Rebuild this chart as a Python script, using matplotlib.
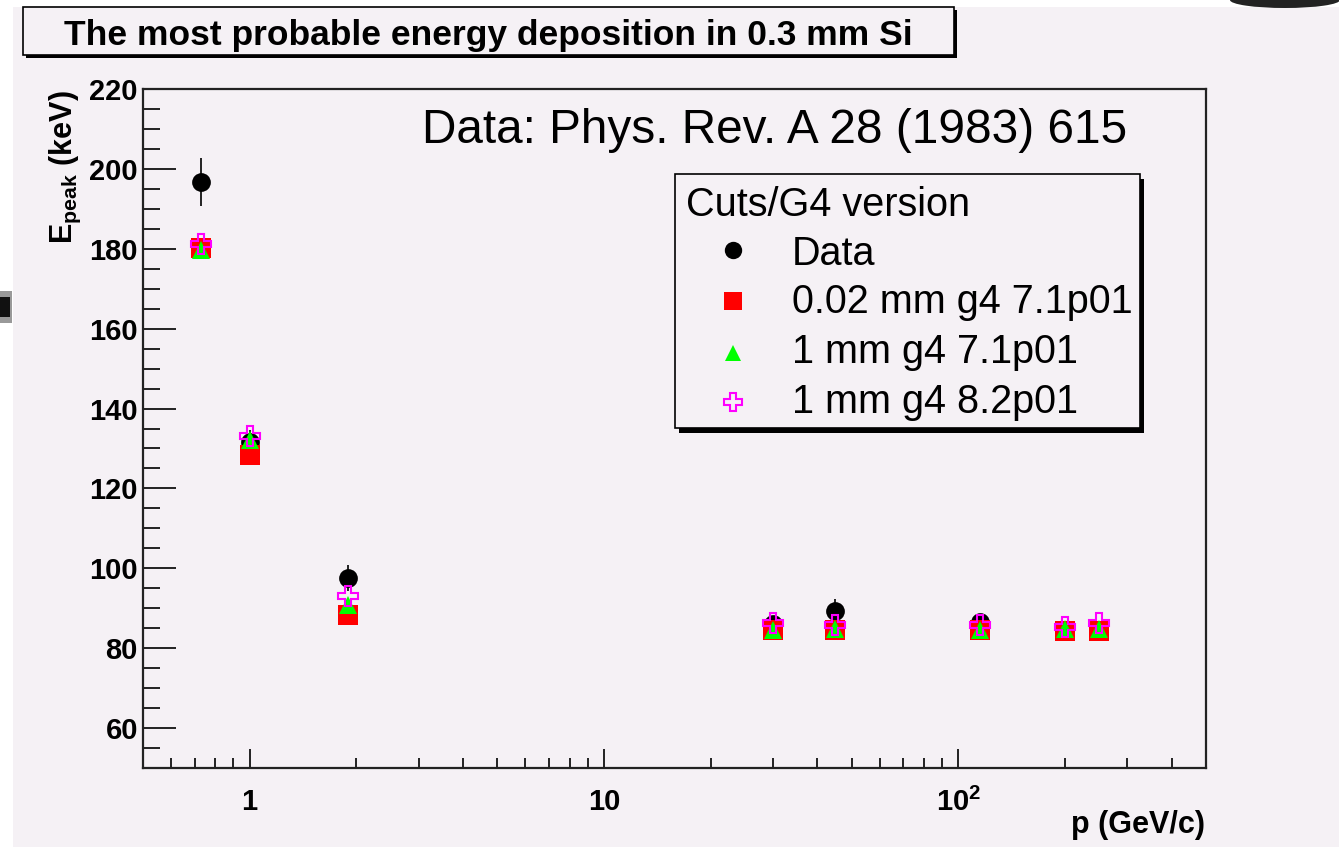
import matplotlib
matplotlib.use('Agg')
import matplotlib.pyplot as plt
from matplotlib.patches import Rectangle, Ellipse
from matplotlib.lines import Line2D
from matplotlib.ticker import FixedLocator, FixedFormatter, MultipleLocator, LogLocator, NullFormatter

# ---------------- data ----------------
data_p = [0.73, 1.0, 1.9, 30, 45, 115]
data_e = [196.7, 131.5, 97.5, 86.0, 89.2, 86.5]
data_err = [6.0, 3.0, 3.2, 1.5, 3.0, 1.5]

sim_p = [0.73, 1.0, 1.9, 30, 45, 115, 200, 250]
e_002_71 = [180.3, 128.3, 88.2, 84.5, 84.5, 84.5, 84.4, 84.4]
e_1_71 = [179.8, 132.0, 90.8, 84.6, 84.7, 84.6, 84.7, 84.8]
e_1_82 = [181.3, 133.0, 93.0, 86.2, 85.7, 85.7, 85.2, 86.2]

legend_labels = ['Data', '0.02 mm g4 7.1p01', '1 mm g4 7.1p01', '1 mm g4 8.2p01']
legend_title = 'Cuts/G4 version'
title = 'The most probable energy deposition in 0.3 mm Si'
note = 'Data: Phys. Rev. A 28 (1983) 615'

xtick_vals = [1, 10, 100]
xtick_labels = ['1', '10', r'$\mathbf{10^{2}}$']
ytick_vals = [60, 80, 100, 120, 140, 160, 180, 200, 220]
ytick_labels = [str(v) for v in ytick_vals]

# ---------------- style ----------------
W, H = 1339, 847
plt.rcParams['font.family'] = ['Liberation Sans', 'DejaVu Sans']
plt.rcParams['mathtext.fontset'] = 'custom'
plt.rcParams['mathtext.rm'] = 'Liberation Sans'
plt.rcParams['mathtext.bf'] = 'Liberation Sans:bold'
plt.rcParams['mathtext.it'] = 'Liberation Sans:italic'

BG = '#f5f1f5'
FRAME = '#222222'

fig = plt.figure(figsize=(W / 100, H / 100), dpi=100, facecolor=BG)


def fx(x):
    return x / W


def fy(y):
    return 1 - y / H


ax = fig.add_axes([fx(143), fy(768), (1206 - 143) / W, (768 - 89) / H])
ax.set_facecolor(BG)
ax.set_xscale('log')
ax.set_xlim(0.5, 500)
ax.set_ylim(50, 220)

ax.errorbar(data_p, data_e, yerr=data_err, fmt='o', color='black', ecolor='#222222',
            ms=13.5, mew=0, elinewidth=1.4, capsize=4, capthick=1.4, zorder=3)
ax.plot(sim_p, e_002_71, 's', color='#ff0000', ms=13.8, mew=0, zorder=4)
ax.plot(sim_p, e_1_71, '^', color='#00ff00', ms=13.3, mew=0, zorder=5)
ax.plot(sim_p, e_1_82, 'P', mfc='none', mec='#ff00ff', ms=13.8, mew=1.5, zorder=6)

for s in ax.spines.values():
    s.set_linewidth(1.6)
    s.set_color(FRAME)

ax.xaxis.set_major_locator(FixedLocator(xtick_vals))
ax.xaxis.set_major_formatter(FixedFormatter(xtick_labels))
ax.xaxis.set_minor_locator(LogLocator(base=10, subs=[2, 3, 4, 5, 6, 7, 8, 9], numticks=20))
ax.xaxis.set_minor_formatter(NullFormatter())
ax.yaxis.set_major_locator(FixedLocator(ytick_vals))
ax.yaxis.set_major_formatter(FixedFormatter(ytick_labels))
ax.yaxis.set_minor_locator(MultipleLocator(5))

ax.tick_params(axis='y', which='major', direction='in', length=23.8, width=1.4,
               pad=3.6, labelsize=21, color=FRAME)
ax.tick_params(axis='y', which='minor', direction='in', length=12.2, width=1.4, color=FRAME)
ax.tick_params(axis='x', which='major', direction='in', length=13.7, width=1.4,
               pad=14.4, labelsize=21, color=FRAME)
ax.tick_params(axis='x', which='minor', direction='in', length=7.2, width=1.4, color=FRAME)
for lab in ax.get_xticklabels() + ax.get_yticklabels():
    lab.set_fontweight('bold')

# axis titles
fig.text(fx(1205), fy(833), 'p (GeV/c)', fontsize=22, fontweight='bold',
         ha='right', va='baseline')
fig.text(fx(72), fy(90), r'$\mathbf{E}_{\mathbf{peak}}$ (keV)', fontsize=22,
         fontweight='bold', rotation=90, rotation_mode='anchor',
         ha='right', va='baseline')

# reference note
fig.text(fx(422), fy(143), note, fontsize=34.4, ha='left', va='baseline')

# title box
fig.patches.append(Rectangle((fx(26), fy(58)), (954 - 23) / W, (55 - 7) / H,
                             transform=fig.transFigure, facecolor='black',
                             edgecolor='none', zorder=1))
fig.patches.append(Rectangle((fx(23), fy(55)), (954 - 23) / W, (55 - 7) / H,
                             transform=fig.transFigure, facecolor=BG,
                             edgecolor='black', lw=1.2, zorder=1.1))
fig.text(fx(64), fy(45), title, fontsize=25.5, fontweight='bold',
         ha='left', va='baseline', zorder=3)

# legend box
fig.patches.append(Rectangle((fx(679), fy(433)), (1140 - 675) / W, (428 - 174) / H,
                             transform=fig.transFigure, facecolor='black',
                             edgecolor='none', zorder=1))
fig.patches.append(Rectangle((fx(675), fy(428)), (1140 - 675) / W, (428 - 174) / H,
                             transform=fig.transFigure, facecolor=BG,
                             edgecolor='black', lw=1.2, zorder=1.1))
fig.text(fx(686), fy(216), legend_title, fontsize=28.5, ha='left', va='baseline')

row_marker_y = [250, 301, 353, 402]
row_text_y = [265, 313, 363, 413]
styles = [dict(marker='o', color='black', ms=12.5, mew=0),
          dict(marker='s', color='#ff0000', ms=12.5, mew=0),
          dict(marker='^', color='#00ff00', ms=12, mew=0),
          dict(marker='P', mfc='none', mec='#ff00ff', ms=12.5, mew=1.5, color='#ff00ff')]
for lab, my, ty, st in zip(legend_labels, row_marker_y, row_text_y, styles):
    fig.add_artist(Line2D([fx(733)], [fy(my)], transform=fig.transFigure,
                          linestyle='none', zorder=2, **st))
    fig.text(fx(792), fy(ty), lab, fontsize=28.5, ha='left', va='baseline')

# screenshot border artifacts
fig.patches.append(Rectangle((0, 0), fx(13), 1, transform=fig.transFigure,
                             facecolor='white', edgecolor='none', zorder=0.5))
fig.patches.append(Rectangle((0, fy(7)), 1, 7 / H, transform=fig.transFigure,
                             facecolor='white', edgecolor='none', zorder=0.5))
fig.patches.append(Rectangle((0, fy(323)), fx(12), 32 / H, transform=fig.transFigure,
                             facecolor='#999999', edgecolor='none', zorder=0.6))
fig.patches.append(Rectangle((0, fy(317)), fx(10), 20 / H, transform=fig.transFigure,
                             facecolor='#111111', edgecolor='none', zorder=0.7))
fig.patches.append(Ellipse((fx(1285), fy(0)), 110 / W, 16 / H, transform=fig.transFigure,
                           facecolor='#222222', edgecolor='none', zorder=0.8))

fig.savefig('out.png', dpi=100, facecolor=BG)
